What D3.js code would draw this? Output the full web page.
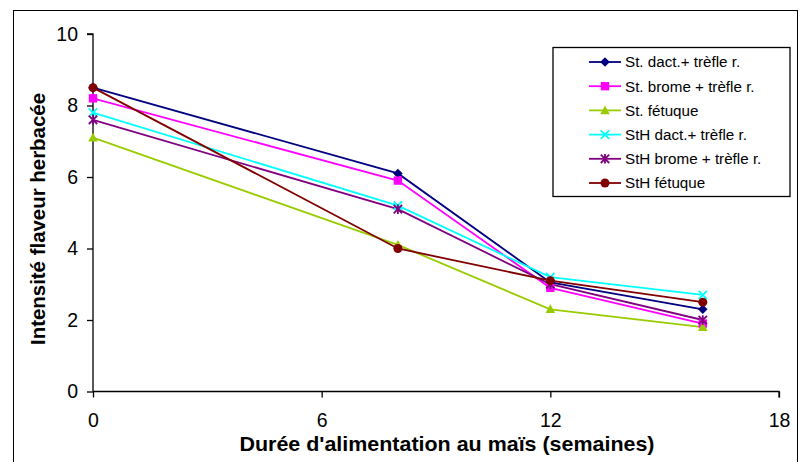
<!DOCTYPE html>
<html><head><meta charset="utf-8">
<script src="https://cdn.jsdelivr.net/npm/d3@7"></script>
<style>body{margin:0;background:#fff}svg{display:block}text{font-family:"Liberation Sans",Arial,sans-serif}</style>
</head><body><svg id="c" width="806" height="462"></svg>
<script>
const weeks = [0, 8, 12, 16];
const seriesNames = ["St. dact.+ trèfle r.", "St. brome + trèfle r.", "St. fétuque", "StH dact.+ trèfle r.", "StH brome + trèfle r.", "StH fétuque"];
const stDact = [8.5, 6.1, 3.05, 2.3];
const stBrome = [8.2, 5.9, 2.9, 1.9];
const stFetuque = [7.1, 4.1, 2.3, 1.8];
const sthDact = [7.8, 5.2, 3.2, 2.7];
const sthBrome = [7.6, 5.1, 3.0, 2.0];
const sthFetuque = [8.5, 4.0, 3.1, 2.5];
const xTicks = [0, 6, 12, 18];
const yTicks = [0, 2, 4, 6, 8, 10];
const colors = ["#000080", "#FF00FF", "#99CC00", "#00FFFF", "#800080", "#800000"];
const markers = ["diamond", "square", "triangle", "x", "star", "circle"];
const values = [stDact, stBrome, stFetuque, sthDact, sthBrome, sthFetuque];

const svg = d3.select("#c");
svg.append("rect").attr("x", 13.5).attr("y", 10.5).attr("width", 784).attr("height", 470)
  .attr("fill", "none").attr("stroke", "#000").attr("stroke-width", 1);

const x = d3.scaleLinear().domain([0, 18]).range([93, 779]);
const y = d3.scaleLinear().domain([0, 10]).range([391.5, 34]);

const yAxis = svg.append("g").attr("transform", "translate(93,0)")
  .call(d3.axisLeft(y).tickValues(yTicks).tickSize(6).tickPadding(9));
const xAxis = svg.append("g").attr("transform", "translate(0,391.5)")
  .call(d3.axisBottom(x).tickValues(xTicks).tickSize(6).tickPadding(16));
[yAxis, xAxis].forEach(g => {
  g.select(".domain").attr("stroke", "#000").attr("stroke-width", 1.3);
  g.selectAll(".tick line").attr("stroke", "#000").attr("stroke-width", 1.3);
  g.selectAll(".tick text").attr("fill", "#000").style("font-size", "19.5px")
    .style("font-family", '"Liberation Sans",Arial,sans-serif');
});
yAxis.select(".domain").attr("d", `M-6,${y(10)}H0V${y(0)}`);
xAxis.select(".domain").attr("d", `M${x(0)},0H${x(18)}V6`);

function drawMarker(g, type, cx, cy, color) {
  if (type === "diamond") {
    g.append("path").attr("d", `M${cx},${cy-4.8}L${cx+4.8},${cy}L${cx},${cy+4.8}L${cx-4.8},${cy}Z`).attr("fill", color);
  } else if (type === "square") {
    g.append("rect").attr("x", cx-4.2).attr("y", cy-4.2).attr("width", 8.4).attr("height", 8.4).attr("fill", color);
  } else if (type === "triangle") {
    g.append("path").attr("d", `M${cx},${cy-5}L${cx+4.8},${cy+3.8}L${cx-4.8},${cy+3.8}Z`).attr("fill", color);
  } else if (type === "x") {
    g.append("path").attr("d", `M${cx-4.2},${cy-4.2}L${cx+4.2},${cy+4.2}M${cx+4.2},${cy-4.2}L${cx-4.2},${cy+4.2}`).attr("stroke", color).attr("stroke-width", 1.8);
  } else if (type === "star") {
    g.append("path").attr("d", `M${cx-4.2},${cy-4.2}L${cx+4.2},${cy+4.2}M${cx+4.2},${cy-4.2}L${cx-4.2},${cy+4.2}M${cx},${cy-4.8}V${cy+4.8}`).attr("stroke", color).attr("stroke-width", 1.8);
  } else {
    g.append("circle").attr("cx", cx).attr("cy", cy).attr("r", 4.5).attr("fill", color);
  }
}

const line = d3.line().x((d, i) => x(weeks[i])).y(d => y(d));
values.forEach((vals, s) => {
  svg.append("path").attr("d", line(vals)).attr("fill", "none").attr("stroke", colors[s]).attr("stroke-width", 1.8);
});
values.forEach((vals, s) => {
  const g = svg.append("g");
  vals.forEach((v, i) => drawMarker(g, markers[s], x(weeks[i]), y(v), colors[s]));
});

// legend
const lg = svg.append("g");
lg.append("rect").attr("x", 553).attr("y", 47.5).attr("width", 237).attr("height", 149)
  .attr("fill", "#fff").attr("stroke", "#000").attr("stroke-width", 1.3);
seriesNames.forEach((name, s) => {
  const ly = 62 + s * 24.2;
  lg.append("line").attr("x1", 589).attr("x2", 621).attr("y1", ly).attr("y2", ly).attr("stroke", colors[s]).attr("stroke-width", 1.8);
  drawMarker(lg, markers[s], 605, ly, colors[s]);
  lg.append("text").attr("x", 625).attr("y", ly + 5.3).attr("font-size", 15.2).text(name);
});

svg.append("text").attr("transform", "translate(45,219) rotate(-90)").attr("text-anchor", "middle")
  .attr("font-size", 20.5).attr("font-weight", "bold")
  .attr("textLength", 252).attr("lengthAdjust", "spacingAndGlyphs").text("Intensité flaveur herbacée");
svg.append("text").attr("x", 447).attr("y", 451).attr("text-anchor", "middle")
  .attr("font-size", 20.5).attr("font-weight", "bold")
  .attr("textLength", 415).attr("lengthAdjust", "spacingAndGlyphs").text("Durée d'alimentation au maïs (semaines)");
</script></body></html>
